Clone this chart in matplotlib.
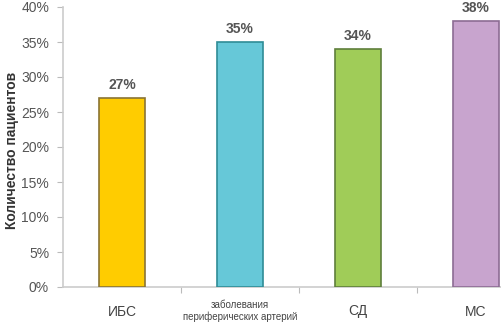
import matplotlib
matplotlib.use("Agg")
import matplotlib.pyplot as plt
from matplotlib.ticker import FuncFormatter, MultipleLocator

plt.rcParams['font.family'] = ['Liberation Sans', 'DejaVu Sans']

categories = ["ИБС", "заболевания\nпериферических артерий", "СД", "МС"]
values = [27, 35, 34, 38]
colors = ["#FFCC00", "#66C8D8", "#A0CC58", "#C8A4CE"]
edges = ["#8A7434", "#2F8C96", "#5F7F3C", "#8C6C94"]

fig = plt.figure(figsize=(5.02, 3.23), dpi=100)
ax = fig.add_axes([63/502, 36/323, 472/502, 280/323])

x = list(range(len(categories)))
bars = ax.bar(x, values, width=0.39, color=colors, edgecolor=edges, linewidth=1.2, zorder=3)

for xi, v in zip(x, values):
    ax.text(xi, v + 0.8, f"{v}%", ha="center", va="bottom", fontsize=10,
            fontweight="bold", color="#555555")

ax.set_xlim(-0.5, 3.5)
ax.set_ylim(0, 40)
ax.yaxis.set_major_locator(MultipleLocator(5))
ax.yaxis.set_major_formatter(FuncFormatter(lambda v, p: f"{v:.0f}%"))
ax.set_xticks([0.5, 1.5, 2.5])
ax.set_xticklabels([])
ax.tick_params(axis="x", length=4, color="#BBBBBB", direction="out")
ax.tick_params(axis="y", length=4, color="#BBBBBB", labelsize=10, labelcolor="#555555", pad=6)

for xi, lab in zip(x, categories):
    multi = "\n" in lab
    ax.text(xi, -1.9 if multi else -2.5, lab, ha="center", va="top",
            fontsize=7 if multi else 10, color="#444444", linespacing=1.1)

for s in ["top", "right"]:
    ax.spines[s].set_visible(False)
ax.spines["left"].set_color("#CCCCCC")
ax.spines["bottom"].set_color("#CCCCCC")
ax.spines["left"].set_linewidth(1.2)
ax.spines["bottom"].set_linewidth(1.2)

fig.text(12/502, 0.535, "Количество пациентов", rotation=90, ha="center", va="center",
         fontsize=10, fontweight="bold", color="#333333")

fig.savefig("out.png", dpi=100)
